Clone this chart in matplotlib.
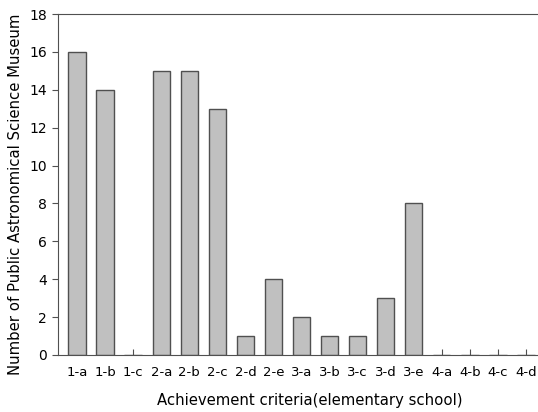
import matplotlib.pyplot as plt

categories = ['1-a', '1-b', '1-c', '2-a', '2-b', '2-c', '2-d', '2-e', '3-a',
              '3-b', '3-c', '3-d', '3-e', '4-a', '4-b', '4-c', '4-d']
values = [16, 14, 0, 15, 15, 13, 1, 4, 2, 1, 1, 3, 8, 0, 0, 0, 0]

W, H = 538, 412
fig = plt.figure(figsize=(W/100, H/100), dpi=100)
ax = fig.add_axes([58/W, 1 - 355/H, (W - 58)/W, (355 - 14)/H])
ax.set_axisbelow(True)  # ticks hidden behind the bars

x = range(len(categories))
ax.bar(x, values, width=0.62, color='#c0c0c0', edgecolor='#505050', linewidth=1)

ax.set_xlim(-0.68, 16.43)
ax.set_ylim(0, 18)
ax.set_yticks(range(0, 19, 2))
ax.set_xticks(list(x))
ax.set_xticklabels(categories)
ax.tick_params(axis='x', direction='in', length=4, pad=8, labelsize=9.5, color='#505050')
ax.tick_params(axis='y', direction='out', length=4, pad=4, labelsize=10, color='#505050')
for s in ax.spines.values():
    s.set_color('#505050')
ax.spines['right'].set_visible(False)

# axis titles placed to match the original (not centred on the axes)
fig.text(310/W, 1 - 400/H, 'Achievement criteria(elementary school)',
         fontsize=10.7, ha='center', va='center')
fig.text(16/W, 1 - 194/H, 'Number of Public Astronomical Science Museum',
         fontsize=10.7, ha='center', va='center', rotation=90)

fig.savefig('out.png', dpi=100)
